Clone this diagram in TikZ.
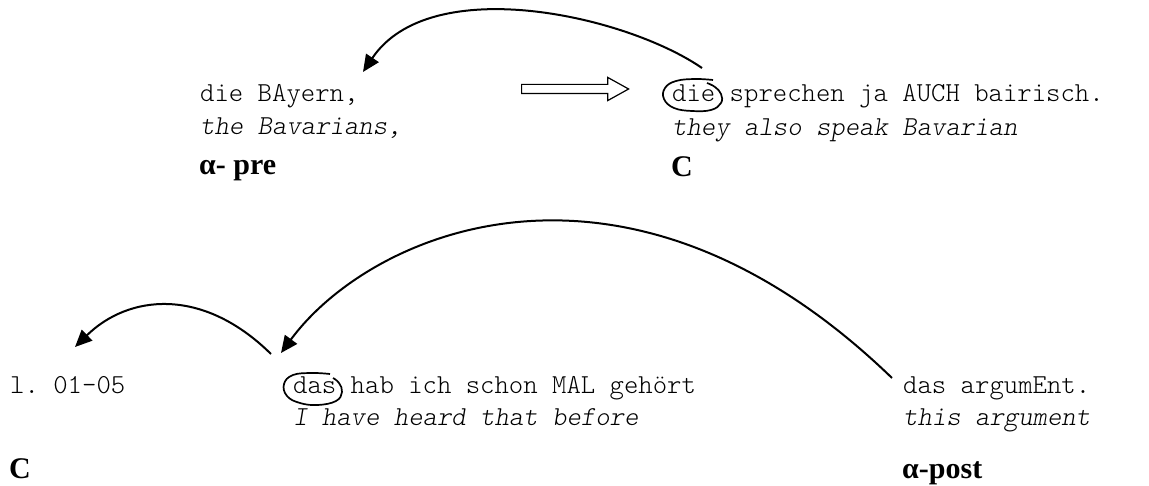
\documentclass[tikz,border=0pt]{standalone}
\usepackage{fontspec}
\setmainfont{Liberation Serif}
\setmonofont{lmmonolt10-regular.otf}[ItalicFont=lmmonolt10-oblique.otf]
\usepackage{tikz}
\usetikzlibrary{arrows.meta,shapes.arrows}

\begin{document}
\begin{tikzpicture}[x=1pt,y=-1pt,
		gl/.style={anchor=base west, inner sep=0pt, font=\fontsize{27.4}{30}\selectfont\ttfamily},
		tr/.style={gl, font=\fontsize{27.4}{30}\selectfont\ttfamily\itshape},
		lab/.style={anchor=base west, inner sep=0pt, font=\fontsize{30}{34}\selectfont\bfseries},
		link/.style={line width=2pt, -{Triangle[length=17pt,width=15pt]}},
		loop/.style={line width=1.7pt}]
			%%%%% START %%%%%
			\useasboundingbox (0, 0) rectangle (1149, 486);
			
			% upper example
			\node[gl] (bayern) at (200, 102) {die BAyern,};
			\node[tr] (bayernGl) at (200, 135) {the Bavarians,};
			\node[lab] (preLab) at (199, 175) {α- pre};
			
			\node[gl] (sprechen) at (672, 102) {die sprechen ja AUCH bairisch.};
			\node[tr] (sprechenGl) at (672, 136) {they also speak Bavarian};
			\node[lab] (cTop) at (671, 177) {C};
			
			\node[single arrow, draw, line width=1.2pt, anchor=west, inner xsep=0pt, inner ysep=4pt,
				minimum height=107pt, single arrow head extend=7pt,
				single arrow tip angle=58] (shift) at (521, 89) {};
			
			\draw[loop] plot[smooth, tension=0.7] coordinates {(713, 80) (695, 79) (676, 81) (665, 88) (664, 99) (674, 108) (692, 111) (711, 110) (721, 103) (721, 94) (715, 87) (707, 83)};
			
			\coordinate (dieFrom) at (702, 68);
			\coordinate (bayernTo) at (363, 72);
			\draw[link] (dieFrom) .. controls (625, 15) and (430, -28) .. (bayernTo);
			
			% lower example
			\node[gl] (lineRef) at (10, 393) {l. 01-05};
			\node[lab] (cBot) at (9, 478) {C};
			
			\node[gl] (hab) at (293, 393) {das hab ich schon MAL gehört};
			\node[tr] (habGl) at (293, 425) {I have heard that before};
			
			\node[gl] (argument) at (903, 393) {das argumEnt.};
			\node[tr] (argumentGl) at (903, 425) {this argument};
			\node[lab] (postLab) at (902, 478) {α-post};
			
			\draw[loop] plot[smooth, tension=0.7] coordinates {(330, 374) (312, 373) (293, 375) (284, 384) (287, 396) (300, 403) (318, 405) (336, 401) (342, 392) (339, 383) (333, 378)};
			
			\coordinate (argFrom) at (892, 378);
			\coordinate (dasTo) at (281, 353);
			\draw[link] (argFrom) .. controls (625, 120) and (370, 232) .. (dasTo);
			
			\coordinate (dasFrom) at (271, 354);
			\coordinate (refTo) at (75, 347);
			\draw[link] (dasFrom) .. controls (202, 286) and (128, 295) .. (refTo);
			
			%%%%% END %%%%%
		\end{tikzpicture}
\end{document}
